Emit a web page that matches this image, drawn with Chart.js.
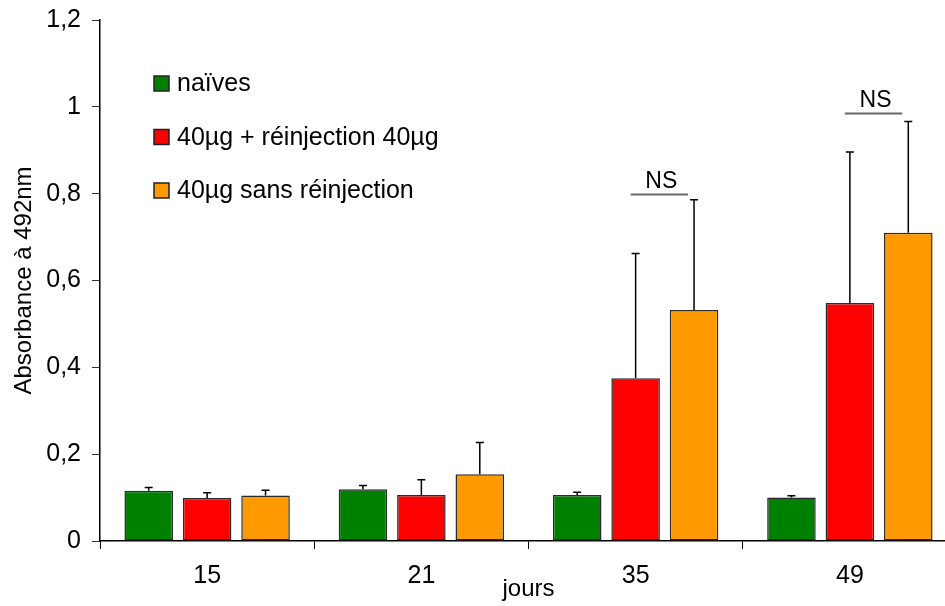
<!DOCTYPE html>
<html>
<head>
<meta charset="utf-8">
<script src="https://cdn.jsdelivr.net/npm/chart.js@4/dist/chart.umd.min.js"></script>
<style>
  html, body { margin: 0; padding: 0; background: #fff; overflow: hidden; width: 945px; height: 606px; }
  canvas { display: block; }
</style>
</head>
<body>
<canvas id="c" width="957" height="606"></canvas>
<script>
// Absorbance (492 nm) per day, three groups of mice, mean + SEM
const days = ['15', '21', '35', '49'];

const naives      = [0.116, 0.119, 0.106, 0.100];
const naivesErr   = [0.007, 0.009, 0.006, 0.004];

const reinj       = [0.099, 0.106, 0.375, 0.548];
const reinjErr    = [0.012, 0.035, 0.287, 0.348];

const sansReinj    = [0.105, 0.154, 0.532, 0.710];
const sansReinjErr = [0.012, 0.073, 0.254, 0.256];

const seriesNames = ['naïves', '40µg + réinjection 40µg', '40µg sans réinjection'];
const yTicks = [0, 0.2, 0.4, 0.6, 0.8, 1, 1.2];

// "NS" comparisons between the two immunised groups
const nsDayIndex = [2, 3];
const nsLevel    = [0.80, 0.986];

const FONT = "'Liberation Sans', Arial, sans-serif";

const errorBars = {
  id: 'errorBars',
  afterDatasetsDraw(chart) {
    const ctx = chart.ctx;
    const y = chart.scales.y;
    ctx.save();
    ctx.strokeStyle = '#000';
    ctx.lineWidth = 1.5;
    chart.data.datasets.forEach((ds, i) => {
      const meta = chart.getDatasetMeta(i);
      meta.data.forEach((bar, j) => {
        const top = y.getPixelForValue(ds.data[j] + ds.errors[j]);
        const x = bar.x;
        ctx.beginPath();
        ctx.moveTo(x, bar.y);
        ctx.lineTo(x, top);
        ctx.moveTo(x - 4, top);
        ctx.lineTo(x + 4, top);
        ctx.stroke();
      });
    });
    ctx.restore();
  }
};

const nsMarks = {
  id: 'nsMarks',
  afterDatasetsDraw(chart) {
    const ctx = chart.ctx;
    const y = chart.scales.y;
    const red = chart.getDatasetMeta(1).data;
    const orange = chart.getDatasetMeta(2).data;
    ctx.save();
    nsDayIndex.forEach((d, k) => {
      const py = Math.round(y.getPixelForValue(nsLevel[k])) + 0.5;
      const x0 = red[d].x - 5;
      const x1 = orange[d].x - 6;
      ctx.strokeStyle = '#666';
      ctx.lineWidth = 2;
      ctx.beginPath();
      ctx.moveTo(x0, py);
      ctx.lineTo(x1, py);
      ctx.stroke();
      ctx.fillStyle = '#000';
      ctx.font = '23px ' + FONT;
      ctx.textAlign = 'center';
      ctx.textBaseline = 'alphabetic';
      ctx.fillText('NS', (x0 + x1) / 2 + 2, py - 7);
    });
    ctx.restore();
  }
};

const boxLegend = {
  id: 'boxLegend',
  afterDraw(chart) {
    const ctx = chart.ctx;
    const area = chart.chartArea;
    const x = area.left + 54;
    const size = 15;
    ctx.save();
    ctx.font = '25px ' + FONT;
    ctx.textAlign = 'left';
    ctx.textBaseline = 'alphabetic';
    chart.data.datasets.forEach((ds, i) => {
      const base = area.top + 71 + i * 53.5;
      ctx.fillStyle = ds.backgroundColor;
      ctx.fillRect(x, base - size, size, size);
      ctx.strokeStyle = '#222';
      ctx.lineWidth = 1.5;
      ctx.strokeRect(x, base - size, size, size);
      ctx.fillStyle = '#000';
      ctx.fillText(ds.label, x + 23, base);
    });
    ctx.restore();
  }
};

function barSet(label, data, errors, color) {
  return {
    label, data, errors,
    backgroundColor: color,
    borderColor: '#2a2a2a',
    borderWidth: 1.5,
    borderSkipped: false,
    categoryPercentage: 0.818,
    barPercentage: 0.831
  };
}

new Chart(document.getElementById('c'), {
  type: 'bar',
  data: {
    labels: days,
    datasets: [
      barSet(seriesNames[0], naives, naivesErr, '#008000'),
      barSet(seriesNames[1], reinj, reinjErr, '#ff0000'),
      barSet(seriesNames[2], sansReinj, sansReinjErr, '#ff9900')
    ]
  },
  options: {
    responsive: false,
    animation: false,
    events: [],
    layout: { padding: { top: 20, left: 0, right: 0, bottom: 0 } },
    plugins: { legend: { display: false }, tooltip: { enabled: false } },
    scales: {
      x: {
        afterFit(scale) { scale.height = 65; scale.paddingLeft = 0; scale.paddingRight = 0; },
        grid: { display: true, drawOnChartArea: false, offset: true, tickLength: 8, color: '#000', lineWidth: 1 },
        border: { display: true, color: '#000', width: 1.5 },
        ticks: { color: '#000', padding: 12, font: { family: FONT, size: 25 } },
        title: { display: true, text: 'jours', color: '#000', padding: { top: 0, bottom: 2 }, font: { family: FONT, size: 24 } }
      },
      y: {
        min: 0,
        max: 1.2,
        afterFit(scale) { scale.width = 100; scale.paddingTop = 0; scale.paddingBottom = 0; },
        afterBuildTicks(scale) { scale.ticks = yTicks.map(v => ({ value: v })); },
        grid: { display: true, drawOnChartArea: false, tickLength: 8, color: '#333', lineWidth: 1 },
        border: { display: true, color: '#000', width: 1.5 },
        ticks: {
          color: '#000',
          padding: 11,
          font: { family: FONT, size: 25 },
          callback: v => String(Math.round(v * 10) / 10).replace('.', ',')
        },
        title: { display: true, text: 'Absorbance à 492nm', color: '#000', padding: { top: 10, bottom: 0 }, font: { family: FONT, size: 24 } }
      }
    }
  },
  plugins: [errorBars, nsMarks, boxLegend]
});
</script>
</body>
</html>
